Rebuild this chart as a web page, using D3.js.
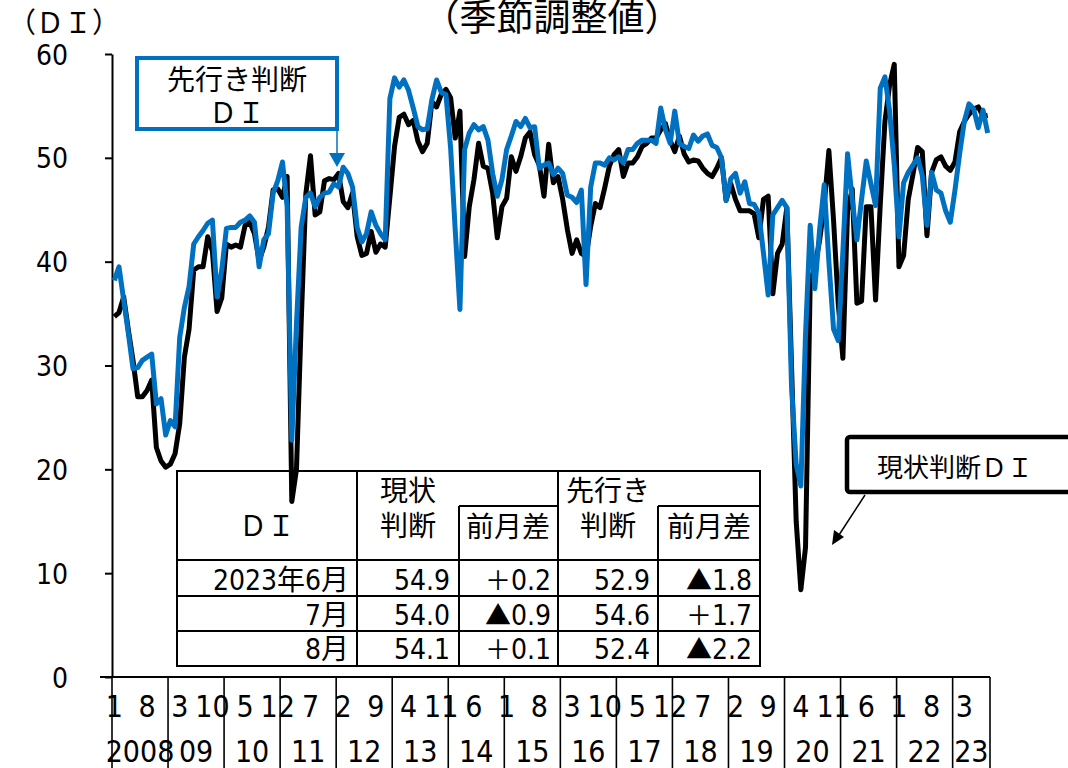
<!DOCTYPE html>
<html>
<head>
<meta charset="utf-8">
<script src="https://cdn.jsdelivr.net/npm/d3@7"></script>
<style>
  body { margin: 0; background: #fff; }
  svg { display: block; }
  .num { font-family: "Liberation Sans Narrow", "DejaVu Sans Condensed", "Noto Sans CJK JP", sans-serif; }
  .jp { font-family: "Noto Sans CJK JP", sans-serif; }
</style>
</head>
<body>
<svg id="chart" width="1068" height="768"></svg>
<script>
// 現状判断DI (季節調整値) 2008年1月～2023年8月
const genjoDI = [
  34.7, 35.1, 36.6, 33.4, 30.5, 27.0, 27.0, 27.6, 28.6, 22.1, 20.8, 20.2,
  20.5, 21.5, 24.4, 30.8, 33.5, 39.2, 39.5, 39.5, 42.4, 41.0, 35.2, 36.5,
  41.7, 41.4, 41.6, 41.4, 43.5, 43.8, 42.7, 40.1, 41.4, 43.3, 46.9, 47.0,
  46.2, 48.2, 16.9, 20.0, 34.0, 46.5, 50.2, 44.5, 44.8, 47.8, 48.0, 47.9,
  48.5, 45.8, 45.2, 46.6, 42.4, 40.6, 40.8, 42.9, 40.9, 41.7, 41.4, 46.2,
  51.1, 53.9, 54.2, 53.2, 53.6, 51.6, 50.6, 51.4, 55.4, 54.9, 56.1, 56.6,
  55.8, 51.9, 54.5, 40.5, 45.3, 47.9, 51.4, 49.2, 49.0, 46.6, 42.3, 45.3,
  46.1, 50.1, 48.7, 50.1, 51.9, 52.5, 50.3, 49.3, 46.3, 51.3, 47.6, 48.2,
  46.0, 43.1, 40.8, 42.1, 40.8, 40.5, 43.4, 45.6, 45.2, 47.1, 49.2, 50.3,
  50.8, 48.2, 49.5, 49.5, 50.1, 51.1, 51.4, 51.9, 51.9, 52.7, 53.3, 51.7,
  50.6, 52.1, 50.4, 49.6, 49.8, 49.7, 49.0, 48.5, 48.2, 49.0, 50.0, 45.9,
  47.5, 46.0, 44.9, 44.9, 44.9, 44.6, 42.3, 46.0, 46.3, 36.9, 40.8, 41.7,
  45.2, 30.0, 15.0, 8.4, 12.5, 38.0, 39.5, 42.0, 45.5, 50.7, 44.0, 36.0,
  30.7, 44.9, 47.0, 36.0, 36.2, 45.3, 45.3, 36.3, 45.5, 53.5, 57.0, 59.0,
  39.5, 40.6, 46.0, 48.4, 51.0, 50.6, 42.5, 48.6, 49.8, 50.1, 49.2, 48.8,
  49.6, 52.5, 53.5, 54.2, 54.7, 54.9, 54.0, 54.1
];
// 先行き判断DI (季節調整値)
const sakiDI = [
  38.2, 39.5, 36.3, 33.1, 29.7, 29.8, 30.5, 30.8, 31.1, 26.3, 26.8, 23.3,
  24.7, 24.1, 32.7, 35.6, 37.6, 41.7, 42.4, 43.0, 43.7, 44.0, 36.6, 39.2,
  43.2, 43.3, 43.3, 43.8, 44.0, 44.4, 43.8, 39.5, 42.1, 42.7, 46.6, 47.8,
  49.6, 45.3, 22.8, 34.0, 43.3, 46.2, 46.6, 45.3, 46.2, 46.6, 46.7, 47.5,
  47.2, 49.1, 48.5, 47.2, 43.3, 41.9, 42.7, 44.8, 43.5, 42.7, 42.1, 55.7,
  57.7, 56.8, 57.5, 56.5, 54.8, 53.0, 52.7, 52.8, 55.6, 57.5, 56.3, 56.1,
  51.0, 43.0, 35.4, 50.8, 52.4, 53.2, 52.7, 53.0, 51.7, 48.5, 46.3, 47.9,
  50.8, 52.1, 53.5, 53.0, 53.8, 52.9, 53.0, 49.0, 49.3, 49.5, 48.4, 49.0,
  48.5, 46.4, 46.2, 45.7, 46.9, 37.8, 47.2, 49.5, 49.5, 49.3, 50.0, 49.8,
  50.1, 49.5, 50.8, 50.8, 51.4, 51.7, 51.7, 51.7, 51.4, 54.8, 52.7, 51.4,
  54.5, 51.4, 51.1, 50.9, 52.2, 51.6, 52.1, 52.3, 51.2, 51.0, 50.0, 45.9,
  48.0, 48.5, 46.6, 47.7, 45.6, 45.5, 44.7, 40.8, 36.8, 44.5, 45.2, 45.9,
  45.2, 28.0, 20.5, 18.4, 33.0, 43.5, 37.4, 43.0, 47.4, 40.0, 33.5, 32.4,
  41.0, 50.4, 46.0, 42.1, 46.0, 49.7, 47.5, 45.4, 56.7, 57.8, 54.5, 49.3,
  42.4, 47.6, 48.6, 49.3, 50.0, 48.3, 43.5, 48.6, 46.9, 46.6, 44.9, 43.8,
  46.9, 50.4, 53.5, 55.2, 54.7, 52.9, 54.6, 52.4
];

const yTicks = [0, 10, 20, 30, 40, 50, 60];
const yearLabels = ['2008', '09', '10', '11', '12', '13', '14', '15', '16',
  '17', '18', '19', '20', '21', '22', '23'];
const monthStep = 7; // 月ラベルは7か月おき

// 表
const tableMonths = ['2023年6月', '7月', '8月'];
const tableGenjo = [54.9, 54.0, 54.1];
const tableGenjoDiff = [0.2, -0.9, 0.1];
const tableSaki = [52.9, 54.6, 52.4];
const tableSakiDiff = [-1.8, 1.7, -2.2];

const svg = d3.select('#chart');

const x = d3.scaleBand().domain(d3.range(genjoDI.length)).range([112, 990]);
const cx = i => x(i) + x.bandwidth() / 2;
const y = d3.scaleLinear().domain([0, 60]).range([677, 54]);

// 見出し
svg.append('text')
  .attr('class', 'jp')
  .attr('x', 552)
  .attr('y', 31)
  .attr('text-anchor', 'middle')
  .style('font-size', '37px')
  .text('（季節調整値）');
svg.append('text')
  .attr('class', 'jp')
  .attr('x', 8)
  .attr('y', 33)
  .style('font-size', '28px')
  .text('（ＤＩ）');

// y軸
const yAxis = svg.append('g')
  .attr('transform', 'translate(112,0)')
  .call(d3.axisLeft(y).tickValues(yTicks).tickSize(7).tickSizeOuter(0).tickPadding(37));
yAxis.select('.domain').attr('stroke', '#000').attr('stroke-width', 2);
yAxis.selectAll('.tick line').attr('stroke', '#000').attr('stroke-width', 2);
yAxis.selectAll('.tick text')
  .attr('class', 'num')
  .attr('dy', '0.36em')
  .attr('fill', '#000')
  .style('font-size', '28px');

// x軸 (年の区切り線)
svg.append('line')
  .attr('x1', 100).attr('x2', 990)
  .attr('y1', y(0)).attr('y2', y(0))
  .attr('stroke', '#000').attr('stroke-width', 2);

const yearEdges = d3.range(0, genjoDI.length, 12).map(i => x(i)).concat([990]);
svg.append('g')
  .selectAll('line')
  .data(yearEdges)
  .enter()
  .append('line')
  .attr('x1', d => d).attr('x2', d => d)
  .attr('y1', y(0)).attr('y2', 768)
  .attr('stroke', '#000')
  .attr('stroke-width', 1.6);

const monthIdx = d3.range(0, genjoDI.length, monthStep);
svg.append('g')
  .selectAll('text')
  .data(monthIdx)
  .enter()
  .append('text')
  .attr('class', 'num')
  .attr('x', cx)
  .attr('y', 717)
  .attr('text-anchor', 'middle')
  .style('font-size', '30px')
  .text(i => (i % 12) + 1);

svg.append('g')
  .selectAll('text')
  .data(yearLabels)
  .enter()
  .append('text')
  .attr('class', 'num')
  .attr('x', (d, k) => (yearEdges[k] + yearEdges[k + 1]) / 2)
  .attr('y', 762)
  .attr('text-anchor', 'middle')
  .style('font-size', '30px')
  .text(d => d);

// 表
const cols = [177, 357, 459, 558, 658, 760];
const rows = [471, 506, 560, 596, 631, 666];
const table = svg.append('g').attr('class', 'table');
table.append('rect')
  .attr('x', cols[0]).attr('y', rows[0])
  .attr('width', cols[5] - cols[0]).attr('height', rows[5] - rows[0])
  .attr('fill', '#fff').attr('stroke', '#000').attr('stroke-width', 2);
const tLines = [
  [cols[1], rows[0], cols[1], rows[5]],
  [cols[3], rows[0], cols[3], rows[5]],
  [cols[2], rows[1], cols[2], rows[5]],
  [cols[4], rows[1], cols[4], rows[5]],
  [cols[2], rows[1], cols[3], rows[1]],
  [cols[4], rows[1], cols[5], rows[1]],
  [cols[0], rows[2], cols[5], rows[2]],
  [cols[0], rows[3], cols[5], rows[3]],
  [cols[0], rows[4], cols[5], rows[4]]
];
table.selectAll('line')
  .data(tLines)
  .enter()
  .append('line')
  .attr('x1', d => d[0]).attr('y1', d => d[1])
  .attr('x2', d => d[2]).attr('y2', d => d[3])
  .attr('stroke', '#000').attr('stroke-width', 2);

const header = [
  { t: 'ＤＩ', x: 267, y: 536 },
  { t: '現状', x: 408, y: 501 },
  { t: '判断', x: 408, y: 536 },
  { t: '前月差', x: 508, y: 537 },
  { t: '先行き', x: 608, y: 501 },
  { t: '判断', x: 608, y: 536 },
  { t: '前月差', x: 709, y: 537 }
];
table.selectAll('.head')
  .data(header)
  .enter()
  .append('text')
  .attr('class', 'jp head')
  .attr('x', d => d.x)
  .attr('y', d => d.y)
  .attr('text-anchor', 'middle')
  .style('font-size', '28px')
  .text(d => d.t);

const fmt = d3.format('.1f');
const baselines = [590, 625, 659];
function cell(g, text, xr, yb, sign) {
  const t = g.append('text')
    .attr('class', 'num')
    .attr('x', xr)
    .attr('y', yb)
    .attr('text-anchor', 'end')
    .style('font-size', '28px');
  if (sign !== undefined) {
    t.append('tspan').attr('class', 'jp').style('font-size', '26px')
      .text(sign < 0 ? '▲' : '＋');
  }
  t.append('tspan').text(text);
}
tableMonths.forEach((m, k) => {
  cell(table, m, cols[1] - 8, baselines[k]);
  cell(table, fmt(tableGenjo[k]), cols[2] - 9, baselines[k]);
  cell(table, fmt(Math.abs(tableGenjoDiff[k])), cols[3] - 7, baselines[k], tableGenjoDiff[k]);
  cell(table, fmt(tableSaki[k]), cols[4] - 8, baselines[k]);
  cell(table, fmt(Math.abs(tableSakiDiff[k])), cols[5] - 8, baselines[k], tableSakiDiff[k]);
});

// 折れ線
const line = d3.line()
  .x((d, i) => cx(i))
  .y(d => y(d));

svg.append('path')
  .datum(genjoDI)
  .attr('fill', 'none')
  .attr('stroke', '#000')
  .attr('stroke-width', 5)
  .attr('stroke-linejoin', 'round')
  .attr('d', line);

svg.append('path')
  .datum(sakiDI)
  .attr('fill', 'none')
  .attr('stroke', '#0070C0')
  .attr('stroke-width', 5)
  .attr('stroke-linejoin', 'round')
  .attr('d', line);

// 吹き出し：先行き判断DI
svg.append('rect')
  .attr('x', 137).attr('y', 58)
  .attr('width', 200).attr('height', 71)
  .attr('fill', '#fff')
  .attr('stroke', '#0070C0')
  .attr('stroke-width', 4);
svg.append('text')
  .attr('class', 'jp')
  .attr('x', 237).attr('y', 90)
  .attr('text-anchor', 'middle')
  .style('font-size', '28px')
  .text('先行き判断');
svg.append('text')
  .attr('class', 'jp')
  .attr('x', 237).attr('y', 123)
  .attr('text-anchor', 'middle')
  .style('font-size', '28px')
  .text('ＤＩ');
svg.append('line')
  .attr('x1', 337).attr('y1', 131)
  .attr('x2', 337).attr('y2', 155)
  .attr('stroke', '#0070C0').attr('stroke-width', 1.5);
svg.append('path')
  .attr('d', 'M 329 153 L 345 153 L 337 167 Z')
  .attr('fill', '#0070C0');

// 吹き出し：現状判断DI
svg.append('rect')
  .attr('x', 847).attr('y', 437)
  .attr('width', 240).attr('height', 55)
  .attr('rx', 3)
  .attr('fill', '#fff')
  .attr('stroke', '#000')
  .attr('stroke-width', 4.5);
svg.append('text')
  .attr('class', 'jp')
  .attr('x', 877).attr('y', 477)
  .style('font-size', '26px')
  .text('現状判断ＤＩ');
svg.append('line')
  .attr('x1', 865).attr('y1', 495)
  .attr('x2', 839).attr('y2', 535)
  .attr('stroke', '#000').attr('stroke-width', 1.5);
svg.append('path')
  .attr('d', 'M 832 545 L 834 530 L 844 537 Z')
  .attr('fill', '#000');
</script>
</body>
</html>
